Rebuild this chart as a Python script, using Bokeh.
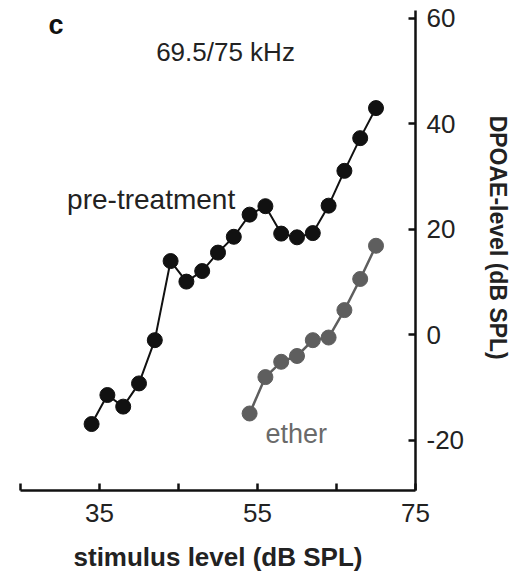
from bokeh.plotting import figure
from bokeh.models import Range1d, FixedTicker, LinearAxis, Label
from bokeh.embed import file_html
from bokeh.resources import INLINE

# data
pre_x = [34, 36, 38, 40, 42, 44, 46, 48, 50, 52, 54, 56, 58, 60, 62, 64, 66, 68, 70]
pre_y = [-16.9, -11.4, -13.6, -9.2, -1.0, 14.0, 10.1, 12.1, 15.6, 18.6, 22.8, 24.4,
         19.2, 18.5, 19.3, 24.5, 31.1, 37.3, 43.0]
ether_x = [54, 56, 58, 60, 62, 64, 66, 68, 70]
ether_y = [-14.9, -8.0, -5.1, -4.0, -1.0, -0.5, 4.7, 10.6, 16.9]
x_ticks = [25, 35, 45, 55, 65, 75]
x_tick_labels = {25: "", 35: "35", 45: "", 55: "55", 65: "", 75: "75"}
y_ticks = [-20, 0, 20, 40, 60]
y_tick_labels = {-20: "-20", 0: "0", 20: "20", 40: "40", 60: "60"}

FONT = "Liberation Sans"

p = figure(frame_width=395, frame_height=480, output_backend="svg", toolbar_location=None,
           x_range=Range1d(25, 75), y_range=Range1d(-29.5, 61.5),
           min_border_left=20, min_border_top=10, min_border_right=90, min_border_bottom=80,
           x_axis_location=None, y_axis_location=None)
p.grid.visible = False
p.outline_line_color = None
p.background_fill_color = "white"
p.border_fill_color = "white"

xa = LinearAxis(ticker=FixedTicker(ticks=x_ticks), major_label_overrides=x_tick_labels,
                axis_label="stimulus level (dB SPL)")
ya = LinearAxis(ticker=FixedTicker(ticks=y_ticks), major_label_overrides=y_tick_labels,
                axis_label="DPOAE-level (dB SPL)\u00a0\u00a0\u00a0\u00a0")
for ax in (xa, ya):
    ax.axis_line_width = 2.5
    ax.axis_line_color = "#111111"
    ax.major_tick_line_width = 2.5
    ax.major_tick_line_color = "#111111"
    ax.major_tick_in = 7
    ax.major_tick_out = 0
    ax.minor_tick_line_color = None
    ax.major_label_text_font = FONT
    ax.major_label_text_font_size = "26px"
    ax.major_label_text_color = "#222222"
    ax.axis_label_text_font = FONT
    ax.axis_label_text_font_style = "bold"
    ax.axis_label_text_color = "#222222"
xa.major_label_standoff = 13
xa.axis_label_standoff = 17
xa.axis_label_text_font_size = "26px"
ya.major_label_standoff = 11
ya.axis_label_standoff = 18
ya.axis_label_text_font_size = "23px"
p.add_layout(xa, "below")
p.add_layout(ya, "right")

p.line(pre_x, pre_y, line_color="#111111", line_width=2)
p.scatter(pre_x, pre_y, size=15, fill_color="#111111", line_color="#111111")
p.line(ether_x, ether_y, line_color="#5e5e5e", line_width=2.5)
p.scatter(ether_x, ether_y, size=15, fill_color="#5e5e5e", line_color="#5e5e5e")

p.add_layout(Label(x=29.5, y=58.8, text="c", text_font=FONT, text_font_style="bold",
                   text_font_size="27px", text_align="center", text_baseline="middle",
                   text_color="#111111"))
p.add_layout(Label(x=50.95, y=53.7, text="69.5/75 kHz", text_font=FONT,
                   text_font_size="26px", text_align="center", text_baseline="middle",
                   text_color="#222222"))
p.add_layout(Label(x=30.9, y=25.6, text="pre-treatment", text_font=FONT,
                   text_font_size="28px", text_align="left", text_baseline="middle",
                   text_color="#222222"))
p.add_layout(Label(x=56.0, y=-18.8, text="ether", text_font=FONT,
                   text_font_size="27px", text_align="left", text_baseline="middle",
                   text_color="#6a6a6a"))

open("out.html", "w").write(file_html(p, INLINE))
